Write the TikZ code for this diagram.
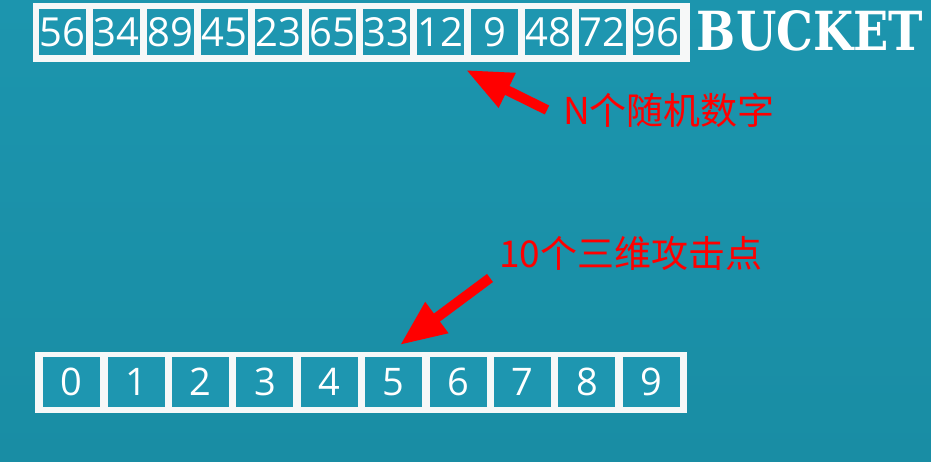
\documentclass[tikz,border=0pt]{standalone}
\usepackage{fontspec}
\setmainfont{Open Sans}
\newfontfamily\cjkfont{Noto Sans CJK SC}
\newfontfamily\stencilfont{DejaVu Serif}
\usetikzlibrary{arrows.meta}
\definecolor{bgtop}{RGB}{28,149,174}
\definecolor{bgbot}{RGB}{25,141,164}
\definecolor{cellteal}{RGB}{30,150,176}
\definecolor{framewhite}{RGB}{246,248,248}
\definecolor{arrred}{RGB}{255,0,0}
\begin{document}
\begin{tikzpicture}[x=1pt,y=-1pt,
  framebox/.style={fill=framewhite,draw=none},
  topcell/.style={fill=cellteal,draw=none,minimum width=47pt,minimum height=46pt,inner sep=0pt,text=white,font=\fontsize{40}{40}\selectfont,anchor=north west},
  botcell/.style={fill=cellteal,draw=none,minimum width=57pt,minimum height=50pt,inner sep=0pt,text=white,font=\fontsize{38}{38}\selectfont,anchor=north west},
  redlabel/.style={text=arrred,inner sep=0pt,font=\cjkfont\fontsize{37}{37}\selectfont,anchor=base west},
  redarrow/.style={draw=arrred,line width=10pt,-{Triangle[length=46pt,width=36pt]}}
]
\useasboundingbox (0,0) rectangle (931,462);
\shade[top color=bgtop,bottom color=bgbot] (0,0) rectangle (931,462);
% top array
\fill[framebox] (33,3) rectangle (690,62);
\foreach \v [count=\i from 0] in {56,34,89,45,23,65,33,12,9,48,72,96}
  \node[topcell] (t\i) at ({39+54*\i},9) {\v};
% title
\node[inner sep=0pt,text=white] (title) at (810,31) {\resizebox{226pt}{40pt}{\stencilfont\bfseries BUCKET}};
% bottom array
\fill[framebox] (35,352) rectangle (687,413);
\foreach \i in {0,...,9}
  \node[botcell] (b\i) at ({43+64.4*\i},357) {\i};
% labels
\node[redlabel] (lab1) at (563,125) {N个随机数字};
\node[redlabel] (lab2) at (499,268) {10个三维攻击点};
% arrows
\coordinate (tail1) at (547,110);
\coordinate (tip1) at (466,70);
\coordinate (tail2) at (490,278);
\coordinate (tip2) at (400,345);
\draw[redarrow] (tail1) -- (tip1);
\draw[redarrow] (tail2) -- (tip2);
\end{tikzpicture}
\end{document}
